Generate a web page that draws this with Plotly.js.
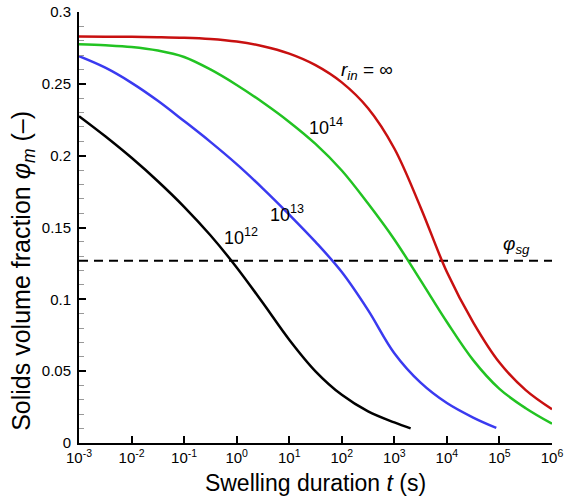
<!DOCTYPE html>
<html>
<head>
<meta charset="utf-8">
<script src="https://cdn.plot.ly/plotly-3.0.1.min.js"></script>
<style>html,body{margin:0;padding:0;background:#fff;}#chart{width:564px;height:502px;}</style>
</head>
<body>
<div id="chart"></div>
<script>
// log10 of swelling duration t (s) and solids volume fraction φm
const logT_rInf = [-3, -2.5, -2, -1.5, -1, -0.5, 0, 0.5, 1, 1.5, 2, 2.5, 3, 3.5, 4, 4.5, 5, 5.5, 6];
const phi_rInf  = [0.2829, 0.2828, 0.2827, 0.2825, 0.2821, 0.2812, 0.2794, 0.2762, 0.2710, 0.2630, 0.2510, 0.2330, 0.2050, 0.1640, 0.1190, 0.0840, 0.0560, 0.0368, 0.0235];

const logT_r14 = [-3, -2.5, -2, -1.5, -1, -0.5, 0, 0.5, 1, 1.5, 2, 2.5, 3, 3.5, 4, 4.5, 5, 5.5, 6];
const phi_r14  = [0.2776, 0.2769, 0.2757, 0.2732, 0.2687, 0.2600, 0.2492, 0.2370, 0.2235, 0.2082, 0.1897, 0.1667, 0.1417, 0.1132, 0.0842, 0.0577, 0.0377, 0.0242, 0.0134];

const logT_r13 = [-3, -2.5, -2, -1.5, -1, -0.5, 0, 0.5, 1, 1.5, 2, 2.5, 3, 3.5, 4, 4.5, 4.94];
const phi_r13  = [0.2692, 0.2612, 0.2507, 0.2382, 0.2241, 0.2096, 0.1941, 0.1771, 0.1590, 0.1400, 0.1190, 0.0925, 0.0625, 0.0420, 0.0278, 0.0177, 0.0105];

const logT_r12 = [-3, -2.5, -2, -1.5, -1, -0.5, 0, 0.5, 1, 1.5, 2, 2.5, 3, 3.31];
const phi_r12  = [0.2275, 0.2135, 0.1985, 0.1822, 0.1644, 0.1446, 0.1222, 0.0974, 0.0719, 0.0499, 0.0335, 0.0220, 0.0143, 0.0102];

const phiSG = 0.1268;
const xRangeLog = [-3, 6];
const xTickExp = [-3, -2, -1, 0, 1, 2, 3, 4, 5, 6];
const yTickVals = [0, 0.05, 0.1, 0.15, 0.2, 0.25, 0.3];
const yTickText = ['0', '0.05', '0.1', '0.15', '0.2', '0.25', '0.3'];

const toT = a => a.map(v => Math.pow(10, v));

function curve(lx, y, color) {
  return {x: toT(lx), y: y, type: 'scatter', mode: 'lines',
          line: {color: color, width: 2.5, shape: 'spline', smoothing: 1.0},
          hoverinfo: 'skip', showlegend: false};
}

const traces = [
  {x: toT(xRangeLog), y: [phiSG, phiSG], type: 'scatter', mode: 'lines',
   line: {color: '#000', width: 2, dash: '9px,6px'}, showlegend: false, hoverinfo: 'skip'},
  curve(logT_r12, phi_r12, '#000000'),
  curve(logT_r13, phi_r13, '#3a3af0'),
  curve(logT_r14, phi_r14, '#22c322'),
  curve(logT_rInf, phi_rInf, '#c81010')
];

const F = 'Arial, "Liberation Sans", sans-serif';
const layout = {
  width: 564, height: 502,
  margin: {l: 79, r: 12, t: 12, b: 59},
  paper_bgcolor: '#fff', plot_bgcolor: '#fff',
  font: {family: F, color: '#000', size: 15},
  showlegend: false,
  xaxis: {
    type: 'log', range: xRangeLog,
    tickvals: toT(xTickExp),
    ticktext: xTickExp.map(e => '10<sup>' + e + '</sup>'),
    ticks: 'inside', ticklen: 7, tickwidth: 2, tickcolor: '#000',
    showline: true, linecolor: '#000', linewidth: 2, mirror: false,
    showgrid: false, zeroline: false,
    tickfont: {size: 15, family: F},
    title: {text: 'Swelling duration <i>t</i> (s)', font: {size: 23, family: F}, standoff: 10}
  },
  yaxis: {
    range: [0, 0.3],
    tickvals: yTickVals, ticktext: yTickText,
    ticks: 'inside', ticklen: 7, tickwidth: 2, tickcolor: '#000',
    minor: {dtick: 0.01, ticks: 'inside', ticklen: 5, tickwidth: 1, tickcolor: '#999', showgrid: false},
    showline: true, linecolor: '#000', linewidth: 2, mirror: false,
    showgrid: false, zeroline: false,
    tickfont: {size: 15, family: F},
    ticklabelstandoff: 3
  },
  annotations: [
    {xref: 'paper', yref: 'paper', x: -0.12, y: 0.40, xanchor: 'center', yanchor: 'middle',
     textangle: -90, showarrow: false,
     text: 'Solids volume fraction <i>φ<sub>m</sub></i> (–)', font: {size: 25, family: F}},
    {x: 2.475, y: 0.2587, xref: 'x', yref: 'y', text: '<i>r<sub>in</sub></i> = ∞', showarrow: false, font: {size: 19, family: F}},
    {x: 1.696, y: 0.2204, xref: 'x', yref: 'y', text: '10<sup>14</sup>', showarrow: false, font: {size: 18, family: F}},
    {x: 0.954, y: 0.1597, xref: 'x', yref: 'y', text: '10<sup>13</sup>', showarrow: false, font: {size: 18, family: F}},
    {x: 0.08, y: 0.1437, xref: 'x', yref: 'y', text: '10<sup>12</sup>', showarrow: false, font: {size: 18, family: F}},
    {x: 5.327, y: 0.138, xref: 'x', yref: 'y', text: '<i>φ<sub>sg</sub></i>', showarrow: false, font: {size: 19, family: F}}
  ]
};

Plotly.newPlot('chart', traces, layout, {staticPlot: true, displayModeBar: false});
</script>
</body>
</html>
